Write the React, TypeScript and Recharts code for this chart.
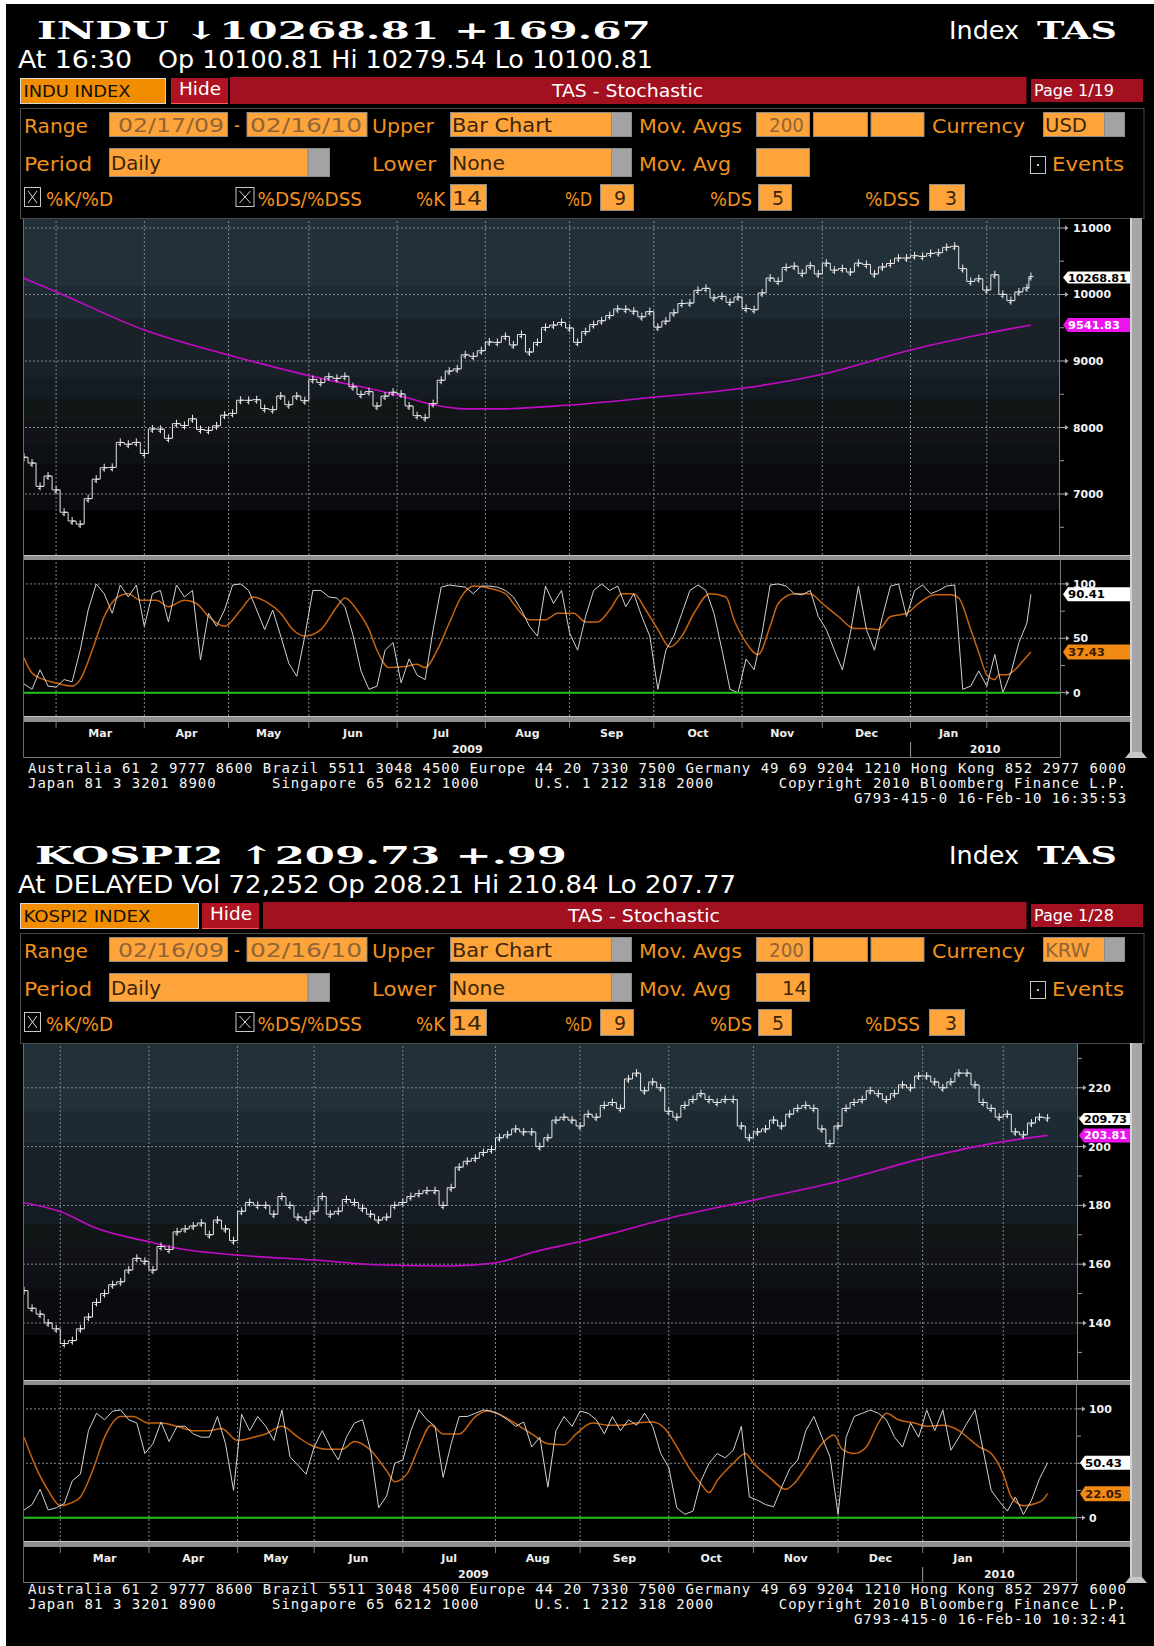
import React from 'react';
import { ComposedChart, Line, XAxis, YAxis, ReferenceLine } from 'recharts';

const COND = "'DejaVu Sans Condensed', 'DejaVu Sans', sans-serif";
const SERIF = "'DejaVu Serif', serif";
const MONO = "'DejaVu Sans Mono', monospace";
const SANS = "'DejaVu Sans', sans-serif";

const GRID = '#7d8990';
const RED = '#a3101f';
const LABEL = '#f0921c';
const BOX = '#ffa43a';
const DIM = '#8e6438';
const DARK = '#3a2508';

// ---------- INDU, closes every 2nd session (session 0 = 02/17/09) ----------
const usClose = [
  7553, 7466, 7115, 7271, 7062, 6726, 6594, 6547, 6930, 7223,
  7395, 7400, 7776, 7749, 7776, 7609, 7978, 7975, 7837, 8058,
  8030, 8131, 7969, 7957, 8025, 8185, 8212, 8410, 8409, 8418,
  8284, 8268, 8474, 8342, 8473, 8403, 8721, 8675, 8763, 8739,
  8770, 8612, 8497, 8539, 8323, 8472, 8530, 8504, 8324, 8178,
  8146, 8359, 8711, 8848, 8881, 9093, 9070, 9154, 9286, 9280,
  9370, 9241, 9398, 9135, 9279, 9505, 9539, 9580, 9496, 9280,
  9441, 9547, 9605, 9683, 9783, 9778, 9749, 9665, 9742, 9509,
  9599, 9725, 9864, 9871, 10062, 10092, 9949, 9972, 9882, 9962,
  9789, 9771, 10023, 10247, 10197, 10406, 10426, 10318, 10433, 10309,
  10471, 10366, 10390, 10337, 10471, 10452, 10308, 10414, 10466, 10547,
  10549, 10583, 10573, 10618, 10628, 10710, 10725, 10389, 10196, 10236,
  10067, 10296, 10002, 9908, 10038, 10099,
];
const usLastSession = 251;
const usLastClose = 10268.81;
// 200-day moving average [session, value]
const usMA = [
  [0, 10244], [8, 10042], [30, 9466], [51, 9090], [71, 8780], [93, 8489], [103, 8330],
  [110, 8280], [118, 8280], [136, 8338], [157, 8454], [179, 8589], [199, 8800],
  [221, 9165], [240, 9416], [251, 9541.83],
];
// %K every 2nd session
const usK = [
  8, 3, 21, 6, 5, 12, 10, 39, 76, 100,
  91, 73, 99, 88, 99, 61, 91, 94, 65, 99,
  88, 94, 30, 73, 61, 76, 99, 100, 94, 76,
  58, 76, 52, 27, 15, 52, 94, 94, 88, 87,
  79, 53, 20, 3, 6, 39, 46, 9, 31, 16,
  12, 58, 97, 99, 98, 97, 91, 98, 98, 97,
  94, 88, 76, 61, 52, 98, 82, 94, 55, 39,
  70, 94, 100, 94, 98, 79, 91, 70, 52, 3,
  39, 52, 73, 94, 99, 94, 73, 39, 3, 0,
  31, 21, 55, 99, 100, 98, 91, 90, 94, 70,
  58, 39, 21, 55, 98, 58, 39, 70, 98, 100,
  70, 94, 99, 91, 94, 98, 99, 3, 6, 20,
  6, 35, 0, 18, 46, 64,
];
const usLastK = 90.41;
const usD = [
  [0, 32], [2, 18], [5, 12], [8, 9], [12, 6], [14, 12], [17, 39], [20, 70], [23, 87], [26, 91],
  [29, 85], [33, 85], [36, 79], [40, 85], [43, 82], [46, 70], [50, 61], [54, 76], [57, 88], [61, 82],
  [64, 73], [67, 58], [70, 52], [74, 58], [78, 79], [80, 87], [83, 76], [86, 58], [88, 39], [91, 23],
  [95, 24], [98, 26], [100, 23], [103, 39], [106, 64], [109, 88], [112, 98], [116, 96], [120, 91], [122, 82],
  [126, 67], [130, 67], [133, 73], [137, 73], [140, 65], [143, 65], [146, 76], [149, 91], [152, 91], [155, 76],
  [158, 58], [161, 42], [164, 52], [167, 73], [171, 91], [175, 88], [177, 67], [180, 46], [183, 35], [186, 61],
  [188, 82], [192, 91], [196, 91], [199, 82], [203, 70], [207, 59], [210, 59], [213, 58], [216, 70], [220, 73],
  [223, 82], [227, 90], [231, 90], [233, 87], [236, 58], [238, 37], [240, 16.5], [242, 12], [243, 16.5], [245, 16.5],
  [247, 21], [249, 29], [251, 37.43],
];
// month gridlines (last session of previous month), Mar .. Feb
const usMonthGrid = [8, 30, 51, 71, 93, 115, 136, 157, 179, 199, 221, 240];

// ---------- KOSPI2, closes every 2nd session (session 0 = 02/16/09) ----------
const krClose = [
  151, 145, 143, 140, 138, 133, 134, 138, 142, 147,
  150, 153, 154, 158, 162, 161, 158, 166, 165, 171,
  172, 173, 174, 170, 175, 172, 168, 178, 181, 180,
  180, 177, 183, 180, 176, 175, 178, 183, 177, 178,
  182, 181, 179, 177, 175, 176, 180, 181, 183, 184,
  185, 185, 180, 186, 193, 195, 196, 198, 199, 203,
  204, 206, 205, 205, 200, 203, 209, 210, 209, 207,
  211, 210, 214, 215, 213, 223, 225, 219, 222, 220,
  212, 210, 214, 216, 218, 216, 215, 216, 216, 207,
  203, 205, 206, 209, 207, 211, 213, 214, 213, 206,
  201, 207, 213, 215, 216, 219, 218, 216, 218, 221,
  220, 224, 224, 222, 220, 222, 225, 225, 221, 215,
  213, 210, 211, 205, 204, 208, 210, 209.73,
];
const krMA = [
  [0, 180.9], [9, 177.9], [18, 172.2], [31, 167.6], [38, 165.4], [53, 163.1], [72, 161.4],
  [89, 159.7], [106, 159.4], [117, 160.5], [127, 164.3], [138, 167.7], [146, 170.5],
  [160, 175.6], [181, 181.8], [202, 188.1], [223, 196], [243, 201.7], [254, 203.81],
];
const krK = [
  7, 12, 26, 7, 9, 13, 34, 40, 80, 96,
  90, 98, 99, 90, 87, 59, 68, 88, 70, 84,
  84, 77, 74, 74, 93, 68, 25, 95, 80, 93,
  84, 71, 99, 56, 48, 40, 65, 80, 65, 53,
  74, 87, 90, 62, 9, 20, 50, 53, 80, 99,
  90, 84, 37, 68, 93, 93, 96, 99, 98, 95,
  90, 84, 88, 65, 74, 28, 80, 93, 84, 98,
  96, 90, 77, 93, 80, 90, 85, 96, 84, 59,
  46, 9, 3, 6, 34, 50, 59, 55, 62, 84,
  19, 16, 12, 10, 28, 45, 53, 80, 93, 74,
  56, 3, 74, 93, 96, 99, 96, 90, 74, 65,
  87, 74, 99, 80, 99, 62, 74, 87, 99, 62,
  25, 15, 6, 19, 3, 16, 36, 50.43,
];
const krD = [
  [0, 74], [3, 46], [6, 25], [9, 11], [12, 14], [14, 19], [17, 43], [20, 74], [24, 93], [27, 93],
  [31, 87], [34, 87], [38, 84], [42, 80], [46, 80], [49, 82], [53, 71], [57, 74], [60, 77], [64, 84],
  [68, 74], [71, 67], [75, 63], [79, 63], [82, 70], [86, 62], [90, 43], [92, 33], [95, 40], [98, 65],
  [101, 85], [104, 77], [108, 77], [112, 93], [115, 98], [119, 93], [123, 84], [126, 77], [130, 68], [134, 67],
  [137, 77], [141, 87], [145, 85], [148, 85], [152, 87], [156, 88], [159, 82], [162, 65], [165, 46], [168, 31],
  [170, 23], [172, 34], [176, 50], [179, 59], [181, 50], [185, 37], [189, 26], [191, 31], [194, 46], [198, 68],
  [201, 76], [203, 63], [206, 59], [209, 65], [212, 87], [214, 96], [217, 90], [221, 87], [224, 84], [228, 85],
  [232, 80], [235, 71], [237, 65], [240, 59], [243, 40], [245, 19], [248, 11], [251, 13], [253, 17], [254, 22.05],
];
const krMonthGrid = [9, 31, 53, 72, 94, 117, 138, 160, 181, 202, 223, 243];

const monthNames = ['Mar', 'Apr', 'May', 'Jun', 'Jul', 'Aug', 'Sep', 'Oct', 'Nov', 'Dec', 'Jan'];
const yearNames = ['2009', '2010'];
const stochTicks = [0, 50, 100];
const stochMinor = [25, 75];

const every2 = (vals: number[]) => vals.map((v, i) => ({ x: i * 2, y: v }));
const pairs = (pp: number[][]) => pp.map(([x, y]) => ({ x, y }));
const last = (pp: number[][]) => pp[pp.length - 1][1];

const panels = [
  {
    key: 'indu', dy: 0, footDy: 0,
    title: 'INDU \u219310268.81 +169.67', titleX: 37, titleW: 614,
    line2: [['At 16:30', 18, 114], ['Op 10100.81 Hi 10279.54 Lo 10100.81', 158, 495]],
    idxLabel: 'INDU INDEX', idxBoxW: 145, idxTextW: 107,
    hideX: 171, redX: 230, stochX: 552, stochW: 151, page: 'Page 1/19',
    from: '02/17/09', to: '02/16/10', cur: 'USD', curW: 42, curFill: DARK, movAvg: '',
    stamp: 'G793-415-0 16-Feb-10 16:35:53',
    plotRight: 1059, stochRight: 1060, xMax: 258, sxMax: 258.25,
    priceDomain: [6083, 11135], priceTicks: [7000, 8000, 9000, 10000, 11000],
    priceMinor: [6500, 7500, 8500, 9500, 10500], labelGap: 14, tagGapP: 4, tagGapS: 3,
    close: every2(usClose).concat([{ x: usLastSession, y: usLastClose }]),
    ma: pairs(usMA), k: every2(usK).concat([{ x: usLastSession, y: usLastK }]), d: pairs(usD),
    grid: usMonthGrid, yearMids: [110.5, 239.6],
    lastClose: usLastClose, lastMA: last(usMA), lastK: usLastK, lastD: last(usD),
  },
  {
    key: 'kospi', dy: 825, footDy: 821,
    title: 'KOSPI2 \u2191209.73 +.99', titleX: 35, titleW: 532,
    line2: [['At DELAYED Vol 72,252 Op 208.21 Hi 210.84 Lo 207.77', 18, 718]],
    idxLabel: 'KOSPI2 INDEX', idxBoxW: 178, idxTextW: 127,
    hideX: 202, redX: 263, stochX: 568, stochW: 152, page: 'Page 1/28',
    from: '02/16/09', to: '02/16/10', cur: 'KRW', curW: 45, curFill: DIM, movAvg: '14',
    stamp: 'G793-415-0 16-Feb-10 10:32:41',
    plotRight: 1077, stochRight: 1076, xMax: 261.3, sxMax: 261.04,
    priceDomain: [120.6, 234.9], priceTicks: [140, 160, 180, 200, 220],
    priceMinor: [130, 150, 170, 190, 210, 230], labelGap: 11, tagGapP: 2, tagGapS: 4,
    close: every2(krClose), ma: pairs(krMA), k: every2(krK), d: pairs(krD),
    grid: krMonthGrid, yearMids: [111.5, 242],
    lastClose: krClose[krClose.length - 1], lastMA: last(krMA), lastK: krK[krK.length - 1], lastD: last(krD),
  },
];

const BANDS =
  'linear-gradient(to bottom, #22303a 0%, #22303a 20%, #1d2a33 20%, #1d2a33 29.5%, #1a2129 29.5%, #1a2129 47%, ' +
  '#151b23 47%, #151b23 53.5%, #111716 53.5%, #111716 60%, #121219 60%, #121219 67.5%, #0d1014 67.5%, ' +
  '#0d1014 73%, #0a0a0f 73%, #0a0a0f 86.5%, #000 86.5%, #000 100%)';

const Tag = ({ x, right, y, h, fill, color, text }: any) => {
  const hh = h / 2;
  return (
    <g>
      <polygon points={`${x},${y} ${x + 5},${y - hh} ${right},${y - hh} ${right},${y + hh} ${x + 5},${y + hh}`} fill={fill} />
      <text x={x + 5} y={y + 4} fontSize={11} fontWeight={700} fontFamily={SANS} fill={color}
        textLength={Math.min(text.length * 7.4, right - x - 8)} lengthAdjust="spacingAndGlyphs">{text}</text>
    </g>
  );
};

function axisTick(t: any, p: any, kind: string) {
  const { x, y, payload } = t;
  const v = payload.value;
  const right = x + 1130 - (kind === 'price' ? p.plotRight : p.stochRight);
  if (kind === 'price') {
    const gap = x + p.tagGapP;
    if (v === p.lastClose) return <Tag x={gap} right={right} y={y + 1} h={12} fill="#fff" color="#000" text={v.toFixed(2)} />;
    if (v === p.lastMA) return <Tag x={gap} right={right} y={y} h={14} fill="#ee12ee" color="#fff" text={v.toFixed(2)} />;
  } else {
    const gap = x + p.tagGapS;
    if (v === p.lastK) return <Tag x={gap} right={right} y={y} h={14} fill="#fff" color="#000" text={v.toFixed(2)} />;
    if (v === p.lastD) return <Tag x={gap} right={right} y={y} h={15} fill="#f08a12" color="#3a1800" text={v.toFixed(2)} />;
  }
  const major = kind === 'price' ? p.priceTicks.includes(v) : stochTicks.includes(v);
  if (!major) return <line x1={x} x2={x + 5} y1={y} y2={y} stroke="#9a9a9a" />;
  // a tag sitting right on this level hides its label, as on the terminal
  const hidden = kind === 'stoch' && (Math.abs(v - p.lastK) < 6 || Math.abs(v - p.lastD) < 6);
  const label = String(v);
  return (
    <g>
      <line x1={x} x2={x + 7} y1={y} y2={y} stroke="#adadad" />
      <polygon points={`${x + 6},${y - 2.5} ${x + 9.5},${y} ${x + 6},${y + 2.5}`} fill="#adadad" />
      {!hidden && (
        <text x={x + (kind === 'price' ? p.labelGap : 13)} y={y + 4} fontSize={11} fontWeight={700} fontFamily={SANS}
          fill="#f2f2f2" textLength={label.length * 7.6} lengthAdjust="spacingAndGlyphs">{label}</text>
      )}
    </g>
  );
}

function monthTick(t: any, p: any, mids: number[]) {
  const { x, y, payload } = t;
  const v = payload.value;
  if (p.grid.includes(v)) {
    return (
      <g>
        <line x1={x} x2={x} y1={y + 6} y2={y + 12} stroke="#7a7a7a" />
        {v === p.grid[10] && <line x1={x} x2={x} y1={y + 26} y2={y + 41} stroke="#9a9a9a" />}
      </g>
    );
  }
  const mi = mids.indexOf(v);
  if (mi >= 0) {
    return <text x={x} y={y + 21} textAnchor="middle" fontSize={11} fontWeight={700} fontFamily={SANS} fill="#eeeeee">{monthNames[mi]}</text>;
  }
  const yi = p.yearMids.indexOf(v);
  if (yi >= 0) {
    return <text x={x} y={y + 37} textAnchor="middle" fontSize={11} fontWeight={700} fontFamily={SANS} fill="#eeeeee">{yearNames[yi]}</text>;
  }
  return <g />;
}

// bar-chart look: a short high/low stroke with a close tick at every point
const BarDot = (d: any) => {
  const { cx, cy } = d;
  if (cx == null || cy == null) return <g />;
  return <path d={`M${cx},${cy - 4}V${cy + 4}M${cx - 2},${cy + 2}H${cx}M${cx},${cy}H${cx + 2.5}`} stroke="#eeeeee" strokeWidth={1} fill="none" />;
};

function PriceChart({ p }: any) {
  const plotW = p.plotRight - 24;
  return (
    <div style={{ position: 'absolute', left: 24, top: 219 + p.dy, width: 1106, height: 336 }}>
      <div style={{ position: 'absolute', left: 0, top: 0, width: plotW, height: 336, background: BANDS }} />
      <ComposedChart width={1106} height={336} margin={{ top: 0, right: 0, bottom: 0, left: 0 }}>
        <XAxis type="number" dataKey="x" domain={[0, p.xMax]} allowDataOverflow hide />
        <YAxis type="number" orientation="right" domain={p.priceDomain} allowDataOverflow width={1130 - p.plotRight}
          ticks={[...p.priceMinor, ...p.priceTicks, p.lastClose, p.lastMA]} interval={0}
          axisLine={false} tickLine={false} tickSize={0} tickMargin={0}
          tick={(t: any) => axisTick(t, p, 'price')} />
        {p.priceTicks.map((v: number) => <ReferenceLine key={'h' + v} y={v} stroke={GRID} strokeDasharray="2 2" />)}
        {p.grid.map((v: number) => <ReferenceLine key={'v' + v} x={v} stroke={GRID} strokeDasharray="2 2" />)}
        <Line data={p.ma} dataKey="y" type="monotone" stroke="#c40ac6" strokeWidth={1.6} dot={false} isAnimationActive={false} />
        <Line data={p.close} dataKey="y" type="step" stroke="#e6e6e6" strokeWidth={1} dot={BarDot} isAnimationActive={false} />
      </ComposedChart>
    </div>
  );
}

function StochChart({ p }: any) {
  const mids = p.grid.slice(0, 11).map((g: number, i: number) => (g + p.grid[i + 1]) / 2);
  return (
    <div style={{ position: 'absolute', left: 24, top: 560 + p.dy, width: 1106, height: 197 }}>
      <ComposedChart width={1106} height={197} margin={{ top: 0, right: 0, bottom: 0, left: 0 }}>
        <XAxis type="number" dataKey="x" domain={[0, p.sxMax]} allowDataOverflow height={41}
          ticks={[...p.grid, ...mids, ...p.yearMids]} interval={0}
          axisLine={false} tickLine={false} tickSize={0} tickMargin={0}
          tick={(t: any) => monthTick(t, p, mids)} />
        <YAxis type="number" orientation="right" domain={[-21.5, 122]} allowDataOverflow width={1130 - p.stochRight}
          ticks={[...stochMinor, ...stochTicks, p.lastK, p.lastD]} interval={0}
          axisLine={false} tickLine={false} tickSize={0} tickMargin={0}
          tick={(t: any) => axisTick(t, p, 'stoch')} />
        <ReferenceLine y={100} stroke={GRID} strokeDasharray="2 2" />
        <ReferenceLine y={50} stroke={GRID} strokeDasharray="2 2" />
        {p.grid.map((v: number) => <ReferenceLine key={'v' + v} x={v} stroke={GRID} strokeDasharray="2 2" />)}
        <Line data={p.d} dataKey="y" type="monotone" stroke="#c8640f" strokeWidth={1.5} dot={false} isAnimationActive={false} />
        <Line data={p.k} dataKey="y" type="linear" stroke="#d2d2d2" strokeWidth={1} dot={false} isAnimationActive={false} />
        <ReferenceLine y={0} stroke="#22c422" strokeWidth={2} />
      </ComposedChart>
    </div>
  );
}

const T = ({ x, y, w, size, fill = '#fff', weight = 400, family = COND, children }: any) => (
  <text x={x} y={y} fontSize={size} fill={fill} fontWeight={weight} fontFamily={family}
    textLength={w} lengthAdjust="spacingAndGlyphs">{children}</text>
);

const Inp = ({ x, y, w, h, drop = 0 }: any) => (
  <g>
    <rect x={x + 0.5} y={y + 0.5} width={w} height={h} fill={BOX} stroke="#8c8c8c" />
    {drop > 0 && <rect x={x + w + 0.5} y={y + 0.5} width={drop} height={h} fill="#a3a3a3" stroke="#8c8c8c" />}
  </g>
);

const Check = ({ x, y, w, h, cross }: any) => (
  <g>
    <rect x={x + 0.5} y={y + 0.5} width={w} height={h} fill="#000" stroke="#c8c8c8" />
    {cross ? (
      <path d={`M${x + 4},${y + 4} L${x + w - 3},${y + h - 3} M${x + w - 3},${y + 4} L${x + 4},${y + h - 3}`} stroke="#d8d8d8" />
    ) : (
      <rect x={x + w / 2 - 0.5} y={y + h / 2 - 0.5} width={2} height={2} fill="#c8c8c8" />
    )}
  </g>
);

function Chrome({ p }: any) {
  const pr = p.plotRight;
  const sr = p.stochRight;
  return (
    <g>
      <g transform={`translate(0, ${p.dy})`}>
        <T x={p.titleX} y={39} w={p.titleW} size={25} weight={700} family={SERIF}>{p.title}</T>
        <T x={949} y={39} w={70} size={24}>Index</T>
        <T x={1037} y={39} w={80} size={25} weight={700} family={SERIF}>TAS</T>
        {p.line2.map(([s, x, w]: any) => <T key={s} x={x} y={68} w={w} size={24}>{s}</T>)}

        <rect x={20.5} y={78.5} width={p.idxBoxW} height={25} fill="#f28c00" stroke="#d8d8d8" />
        <T x={23.5} y={97} w={p.idxTextW} size={16} fill="#111">{p.idxLabel}</T>
        <rect x={p.hideX} y={78} width={57} height={26} fill="#b01422" />
        <line x1={p.hideX} x2={p.hideX + 57} y1={103.5} y2={103.5} stroke="#ff5a5a" />
        <T x={p.hideX + 8} y={95} w={42} size={17}>Hide</T>
        <rect x={p.redX} y={77} width={1026.5 - p.redX} height={27} fill={RED} />
        <T x={p.stochX} y={97} w={p.stochW} size={17}>TAS - Stochastic</T>
        <rect x={1031} y={79} width={112} height={23} fill={RED} />
        <T x={1034} y={96} w={80} size={16}>{p.page}</T>

        <rect x={20.5} y={108.5} width={1123.5} height={110} fill="none" stroke="#4a4a4a" />
        {/* row A */}
        <T x={24} y={133} w={64} size={19} fill={LABEL}>Range</T>
        <Inp x={109} y={112} w={118} h={24} />
        <T x={118} y={132} w={106} size={19} fill={DIM}>{p.from}</T>
        <T x={234} y={132} w={6} size={19} fill={LABEL}>-</T>
        <Inp x={246.5} y={112} w={120} h={24} />
        <T x={250} y={132} w={112} size={19} fill={DIM}>{p.to}</T>
        <T x={372} y={133} w={62} size={19} fill={LABEL}>Upper</T>
        <Inp x={450} y={112} w={161} h={24} drop={20} />
        <T x={452} y={132} w={100} size={19} fill={DARK}>Bar Chart</T>
        <T x={639} y={133} w={103} size={19} fill={LABEL}>Mov. Avgs</T>
        <Inp x={756} y={112} w={53} h={24} />
        <T x={769} y={132} w={35} size={19} fill={DIM}>200</T>
        <Inp x={813} y={112} w={54} h={24} />
        <Inp x={870.5} y={112} w={53} h={24} />
        <T x={932} y={133} w={93} size={19} fill={LABEL}>Currency</T>
        <Inp x={1043} y={112} w={61} h={24} drop={20} />
        <T x={1045} y={132} w={p.curW} size={19} fill={p.curFill}>{p.cur}</T>
        {/* row B */}
        <T x={24} y={171} w={68} size={19} fill={LABEL}>Period</T>
        <Inp x={109} y={148} w={198.6} h={28} drop={21.4} />
        <T x={111} y={170} w={50} size={19} fill={DARK}>Daily</T>
        <T x={372} y={171} w={64} size={19} fill={LABEL}>Lower</T>
        <Inp x={450} y={148} w={161} h={28} drop={20} />
        <T x={452} y={170} w={53} size={19} fill={DARK}>None</T>
        <T x={639} y={171} w={92} size={19} fill={LABEL}>Mov. Avg</T>
        <Inp x={756} y={148} w={53} h={28} />
        {p.movAvg && <T x={782} y={170} w={25} size={19} fill={DARK}>{p.movAvg}</T>}
        <Check x={1030} y={156} w={15} h={17} />
        <T x={1052} y={171} w={72} size={19} fill={LABEL}>Events</T>
        {/* row C */}
        <Check x={24} y={187} w={16} h={19} cross />
        <T x={46} y={206} w={67} size={19} fill={LABEL}>%K/%D</T>
        <Check x={235.5} y={187} w={18} h={19} cross />
        <T x={257.5} y={206} w={104.5} size={19} fill={LABEL}>%DS/%DSS</T>
        <T x={416} y={206} w={29} size={19} fill={LABEL}>%K</T>
        <Inp x={450} y={184} w={36} h={26} />
        <T x={452} y={205} w={30} size={19} fill={DARK}>14</T>
        <T x={565} y={206} w={27} size={19} fill={LABEL}>%D</T>
        <Inp x={600} y={184} w={33} h={26} />
        <T x={614} y={205} w={12} size={19} fill={DARK}>9</T>
        <T x={710} y={206} w={42} size={19} fill={LABEL}>%DS</T>
        <Inp x={758} y={184} w={33} h={26} />
        <T x={772} y={205} w={12} size={19} fill={DARK}>5</T>
        <T x={865} y={206} w={55} size={19} fill={LABEL}>%DSS</T>
        <Inp x={929} y={184} w={35} h={26} />
        <T x={945} y={205} w={12} size={19} fill={DARK}>3</T>

        {/* chart frame */}
        <line x1={23.5} x2={23.5} y1={219} y2={757.5} stroke="#6a6a6a" />
        <line x1={pr + 0.5} x2={pr + 0.5} y1={219} y2={555} stroke="#7a7a7a" />
        <line x1={sr + 0.5} x2={sr + 0.5} y1={560} y2={757.5} stroke="#7a7a7a" />
        <line x1={23.5} x2={sr + 0.5} y1={757.5} y2={757.5} stroke="#7a7a7a" />
        <rect x={24} y={555} width={1106} height={5} fill="#8e8e8e" />
        <line x1={24} x2={1130} y1={555.5} y2={555.5} stroke="#c4c4c4" />
        <rect x={24} y={716} width={1106} height={6} fill="#8e8e8e" />
        <line x1={24} x2={1130} y1={716.5} y2={716.5} stroke="#c4c4c4" />
        <rect x={1130} y={218} width={12} height={536} fill="#a6a6a6" />
        <rect x={1130} y={218} width={2} height={536} fill="#d2d2d2" />
        <polygon points="1130,752 1142,752 1147,758 1125,758" fill="#c8c8c8" />
      </g>
      <g transform={`translate(0, ${p.footDy})`} fontFamily={MONO} fontSize={14} fill="#f4f4f4">
        <text x={28} y={773} textLength={1098} lengthAdjust="spacing">Australia 61 2 9777 8600 Brazil 5511 3048 4500 Europe 44 20 7330 7500 Germany 49 69 9204 1210 Hong Kong 852 2977 6000</text>
        <text x={28} y={788} textLength={187.7} lengthAdjust="spacing">Japan 81 3 3201 8900</text>
        <text x={272} y={788} textLength={206.5} lengthAdjust="spacing">Singapore 65 6212 1000</text>
        <text x={534.8} y={788} textLength={178.3} lengthAdjust="spacing">U.S. 1 212 318 2000</text>
        <text x={778.8} y={788} textLength={347.2} lengthAdjust="spacing">Copyright 2010 Bloomberg Finance L.P.</text>
        <text x={853.9} y={803} textLength={272.2} lengthAdjust="spacing">{p.stamp}</text>
      </g>
    </g>
  );
}

export default function App() {
  return (
    <div style={{ position: 'absolute', left: 0, top: 0, width: 1154, height: 1646, background: '#fff', overflow: 'hidden' }}>
      <div style={{ position: 'absolute', left: 6, top: 4, width: 1148, height: 1642, background: '#000' }} />
      {panels.map((p) => (
        <React.Fragment key={p.key}>
          <PriceChart p={p} />
          <StochChart p={p} />
        </React.Fragment>
      ))}
      <svg width={1154} height={1646} style={{ position: 'absolute', left: 0, top: 0, pointerEvents: 'none' }}>
        {panels.map((p) => <Chrome key={p.key} p={p} />)}
      </svg>
    </div>
  );
}
